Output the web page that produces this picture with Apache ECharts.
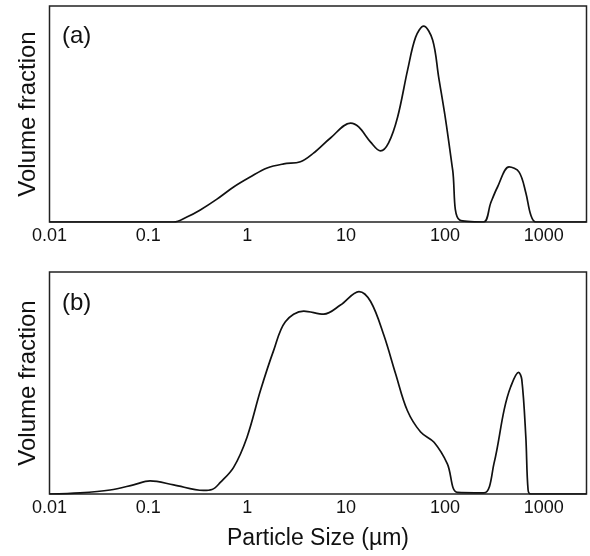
<!DOCTYPE html>
<html>
<head>
<meta charset="utf-8">
<script src="https://cdn.jsdelivr.net/npm/echarts@6/dist/echarts.min.js"></script>
<style>
html,body{margin:0;padding:0;background:#fff;}
#chart{width:590px;height:556px;}
</style>
</head>
<body>
<div id="chart"></div>
<script>
// Panel (a): particle size (µm) and relative volume fraction (% of panel full scale)
const sizesA  = [0.01, 0.1, 0.18, 0.245, 0.335, 0.494, 0.728, 1.07, 1.59, 2.34, 3.45, 4.68, 6.95, 11.1, 13.4, 17.7, 22.3, 26.9, 33.2, 41.9, 50.5, 60.8, 75.0, 86.3, 101.6, 119.6, 140.8, 245, 290, 340, 445, 562, 658, 738, 830, 2700];
const valuesA = [0, 0, 0, 2.3, 5.6, 10.6, 16.2, 20.8, 25.0, 26.9, 27.9, 31.9, 38.9, 45.8, 44.0, 37.0, 32.9, 36.6, 48.6, 70.4, 85.6, 90.7, 84.3, 67.1, 47.2, 24.1, 0.9, 0, 8.8, 16.2, 25.5, 23.1, 13.4, 3.2, 0, 0];

// Panel (b)
const sizesB  = [0.01, 0.0204, 0.041, 0.0707, 0.104, 0.18, 0.361, 0.44, 0.534, 0.728, 0.995, 1.36, 1.85, 2.43, 3.73, 5.94, 8.77, 13.5, 17.7, 24.1, 31.6, 41.6, 56.7, 77.5, 105.7, 133.6, 248, 314, 397, 463, 555, 598, 657, 693, 738, 2700];
const valuesB = [0, 0.5, 1.8, 4.1, 5.9, 4.1, 1.6, 2.0, 5.2, 12.0, 25.6, 46.6, 64.7, 77.6, 82.4, 81.0, 85.1, 91.2, 86.7, 71.5, 54.3, 37.6, 27.9, 23.3, 13.6, 0.7, 0.5, 14.0, 38.0, 48.4, 54.8, 51.6, 25.8, 1.8, 0, 0];

const tickValues = [0.01, 0.1, 1, 10, 100, 1000];
const tickLabels = ['0.01', '0.1', '1', '10', '100', '1000'];
const panelLabels = ['(a)', '(b)'];
const yAxisName = 'Volume fraction';
const xAxisName = 'Particle Size (\u00b5m)';
const xMin = 0.01, xMax = 2700;

const FONT = '"Liberation Sans", Arial, Helvetica, sans-serif';
const INK = '#111';

function fmt(v) {
  for (let i = 0; i < tickValues.length; i++) {
    if (Math.abs(Math.log10(v) - Math.log10(tickValues[i])) < 1e-6) return tickLabels[i];
  }
  return '';
}

function xAxisDef(idx, withName) {
  return {
    gridIndex: idx, type: 'log', logBase: 10, min: xMin, max: xMax,
    axisLine: {show: false}, axisTick: {show: false}, splitLine: {show: false},
    axisLabel: {formatter: fmt, color: INK, fontFamily: FONT, fontSize: 18, margin: 5, showMaxLabel: false},
    name: withName ? xAxisName : '', nameLocation: 'middle', nameGap: 33,
    nameTextStyle: {color: INK, fontFamily: FONT, fontSize: 23}
  };
}
function yAxisDef(idx) {
  return {
    gridIndex: idx, type: 'value', min: 0, max: 100,
    axisLine: {show: false}, axisTick: {show: false}, splitLine: {show: false},
    axisLabel: {show: false},
    name: yAxisName, nameLocation: 'middle', nameGap: 9, nameRotate: 90,
    nameTextStyle: {color: INK, fontFamily: FONT, fontSize: 24}
  };
}
function series(idx, xs, ys) {
  return {
    type: 'line', xAxisIndex: idx, yAxisIndex: idx,
    data: xs.map((x, i) => [x, ys[i]]),
    smooth: 0.35, showSymbol: false, symbol: 'none',
    lineStyle: {color: INK, width: 1.7},
    clip: true, silent: true, animation: false
  };
}

const chart = echarts.init(document.getElementById('chart'), null, {renderer: 'canvas'});
chart.setOption({
  animation: false,
  backgroundColor: '#fff',
  grid: [
    {left: 49.5, top: 6, width: 537, height: 216, show: true, borderColor: '#222', borderWidth: 1.5, backgroundColor: 'transparent', outerBoundsMode: 'none'},
    {left: 49.5, top: 272, width: 537, height: 222, show: true, borderColor: '#222', borderWidth: 1.5, backgroundColor: 'transparent', outerBoundsMode: 'none'}
  ],
  xAxis: [xAxisDef(0, false), xAxisDef(1, true)],
  yAxis: [yAxisDef(0), yAxisDef(1)],
  series: [series(0, sizesA, valuesA), series(1, sizesB, valuesB)],
  graphic: [
    {type: 'text', left: 62, top: 24, style: {text: panelLabels[0], fill: INK, font: '24px ' + FONT}},
    {type: 'text', left: 62, top: 291, style: {text: panelLabels[1], fill: INK, font: '24px ' + FONT}}
  ]
});
</script>
</body>
</html>
